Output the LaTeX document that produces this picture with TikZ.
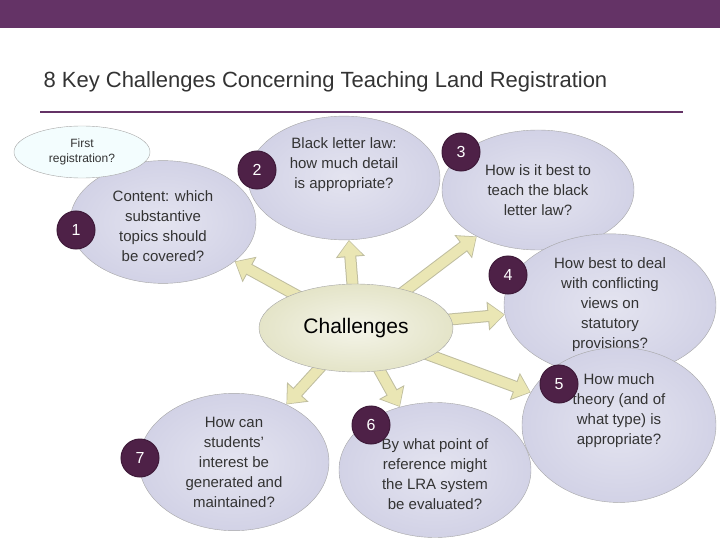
\documentclass[tikz,border=0pt]{standalone}
\usepackage{fontspec}
\setmainfont{Liberation Sans}
\usetikzlibrary{shapes.geometric,arrows.meta,backgrounds}
\definecolor{plum}{HTML}{643366}
\definecolor{dark}{HTML}{4E2147}
\definecolor{lav}{HTML}{D2D2E6}
\definecolor{olive}{HTML}{E4E4C8}
\definecolor{khaki}{HTML}{EAE6B4}
\definecolor{txt}{HTML}{333333}
\tikzset{
 bub/.style={ellipse,draw=gray!70,inner color=white!40!lav,outer color=lav,minimum width=2*#1,align=center,text=txt,font=\fontsize{15}{20}\selectfont},
 num/.style={circle,fill=dark,draw=dark!80!black,line width=1pt,minimum size=38pt,inner sep=0pt,text=white,font=\fontsize{16}{16}\selectfont},
 fat/.style={draw=khaki!70!olive!70!gray,line width=0.6pt,fill=khaki,-{Triangle[width=26pt,length=16pt]},line width=10pt,draw=khaki}
}
\begin{document}
\begin{tikzpicture}[x=1pt,y=-1pt]
\useasboundingbox (0,0) rectangle (720,540);
\fill[plum] (0,0) rectangle (720,28);
\node[anchor=west,text=txt,font=\fontsize{22}{24}\selectfont] (title) at (40,82) {8 Key Challenges Concerning Teaching Land Registration};
\draw[plum,line width=2pt] (40,112) -- (683,112);

\node[bub=93pt,minimum height=120pt] (e1) at (163,222) {\\Content: which\\substantive\\topics should\\be covered?};
\node[ellipse,draw=gray!70,fill=gray!10!lav!50!cyan!8,minimum width=136pt,minimum height=52pt,align=center,text=txt,font=\fontsize{12}{15}\selectfont] (fr) at (82,152) {First\\registration?};
\node[bub=96pt,minimum height=118pt] (e2) at (344,178) {Black letter law:\\how much detail\\is appropriate?\\[10pt]};
\node[bub=96pt,minimum height=120pt] (e3) at (538,190) {How is it best to\\teach the black\\letter law?};
\node[bub=106pt,minimum height=120pt] (e4) at (610,305) {How best to deal\\with conflicting\\views on\\statutory\\provisions?};
\node[bub=97pt,minimum height=120pt] (e5) at (619,425) {How much\\theory (and of\\what type) is\\appropriate?\\[12pt]};
\node[bub=96pt,minimum height=135pt] (e6) at (435,470) {\\By what point of\\reference might\\the LRA system\\be evaluated?};
\node[bub=95pt,minimum height=136pt] (e7) at (234,462) {How can\\students'\\interest be\\generated and\\maintained?};
\node[ellipse,draw=gray!70,inner color=olive!40,outer color=olive,minimum width=194pt,minimum height=88pt,text=black,font=\fontsize{21}{24}\selectfont] (ch) at (356,328) {Challenges};

\node[num] (n1) at (76,230) {1};
\node[num] (n2) at (257,170) {2};
\node[num] (n3) at (461,152) {3};
\node[num] (n4) at (508,275) {4};
\node[num] (n5) at (559,384) {5};
\node[num] (n6) at (371,425) {6};
\node[num] (n7) at (140,458) {7};

\begin{scope}[on background layer]
\foreach \e in {e1,e2,e3,e4,e5,e6,e7}{
  \draw[line width=12pt,draw=khaki!60!gray,-{Triangle[width=28pt,length=17pt]},fill=khaki!60!gray] (ch.center) -- (\e);
  \draw[line width=10pt,draw=khaki,-{Triangle[width=24pt,length=15pt]},fill=khaki,shorten >=1pt] (ch.center) -- (\e);
}
\end{scope}
\end{tikzpicture}
\end{document}
